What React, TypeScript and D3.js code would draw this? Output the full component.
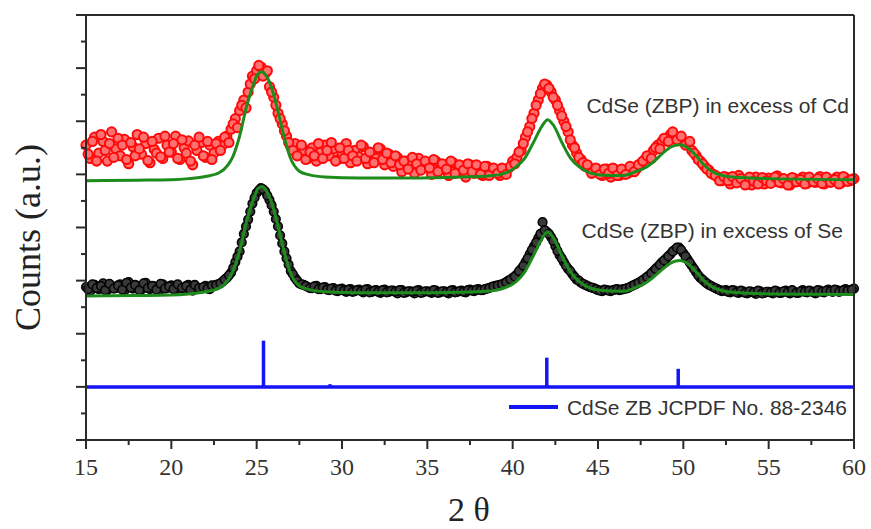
import React from "react";
import * as d3 from "d3";

// 2θ sampling positions of the measured patterns (two interleaved scans)
const twoTheta = d3.range(15, 60.001, 0.25);
const twoThetaMid = d3.range(15.125, 60, 0.25);

// CdSe (ZBP) in excess of Cd — measured counts (offset, a.u.)
const cdExcess = [
  5.55, 5.30, 5.70, 5.40, 5.62, 5.25, 5.80, 5.48, 5.35, 5.66,
  5.20, 5.52, 5.75, 5.38, 5.58, 5.22, 5.47, 5.68, 5.30, 5.55,
  5.42, 5.72, 5.28, 5.50, 5.63, 5.18, 5.45, 5.60, 5.32, 5.55,
  5.40, 5.62, 5.55, 5.72, 5.85, 6.05, 6.20, 6.40, 6.55, 6.85,
  6.95, 7.02, 6.90, 6.65, 6.45, 6.15, 5.95, 5.72, 5.52, 5.58,
  5.38, 5.45, 5.30, 5.50, 5.25, 5.42, 5.55, 5.35, 5.48, 5.28,
  5.40, 5.58, 5.22, 5.45, 5.33, 5.52, 5.20, 5.40, 5.30, 5.48,
  5.18, 5.38, 5.15, 5.32, 5.05, 5.25, 5.18, 5.02, 5.30, 5.12,
  5.20, 5.00, 5.25, 5.08, 5.18, 4.98, 5.22, 5.05, 5.15, 4.95,
  5.18, 5.02, 5.12, 4.98, 5.15, 5.02, 5.08, 4.98, 5.05, 5.12,
  5.25, 5.32, 5.45, 5.70, 5.90, 6.15, 6.40, 6.62, 6.68, 6.55,
  6.40, 6.20, 6.00, 5.80, 5.55, 5.40, 5.28, 5.15, 5.10, 5.05,
  5.05, 4.98, 5.10, 4.95, 5.05, 4.98, 5.08, 5.02, 5.12, 5.10,
  5.20, 5.28, 5.35, 5.45, 5.55, 5.62, 5.68, 5.75, 5.72, 5.68,
  5.62, 5.58, 5.45, 5.35, 5.25, 5.15, 5.08, 5.00, 4.95, 4.88,
  4.95, 4.82, 4.92, 4.98, 4.85, 4.90, 4.80, 4.95, 4.88, 4.82,
  4.93, 4.86, 4.97, 4.84, 4.90, 4.80, 4.92, 4.87, 4.95, 4.83,
  4.90, 4.85, 4.96, 4.82, 4.91, 4.87, 4.95, 4.84, 4.93, 4.88,
  4.92,
];
const cdExcessMid = [
  5.38, 5.62, 5.25, 5.75, 5.45, 5.58, 5.32, 5.68, 5.55, 5.28,
  5.60, 5.35, 5.48, 5.70, 5.26, 5.62, 5.40, 5.33, 5.72, 5.42,
  5.58, 5.30, 5.65, 5.40, 5.25, 5.55, 5.70, 5.35, 5.62, 5.28,
  5.58, 5.45, 5.70, 5.60, 5.95, 5.88, 6.30, 6.25, 6.70, 6.80,
  7.05, 6.85, 6.95, 6.55, 6.30, 6.05, 5.82, 5.60, 5.45, 5.35,
  5.55, 5.28, 5.42, 5.35, 5.58, 5.30, 5.45, 5.60, 5.25, 5.50,
  5.30, 5.45, 5.35, 5.25, 5.55, 5.30, 5.42, 5.22, 5.50, 5.28,
  5.40, 5.22, 5.35, 5.18, 5.25, 5.10, 5.32, 5.20, 5.08, 5.25,
  5.12, 5.28, 5.05, 5.20, 5.10, 5.25, 5.02, 5.18, 5.08, 5.20,
  5.05, 5.18, 5.00, 5.15, 4.98, 5.12, 5.02, 5.12, 5.00, 5.15,
  5.20, 5.42, 5.58, 5.80, 6.05, 6.30, 6.52, 6.70, 6.62, 6.45,
  6.30, 6.10, 5.90, 5.65, 5.50, 5.32, 5.22, 5.18, 5.02, 5.12,
  5.00, 5.10, 5.02, 5.12, 4.98, 5.10, 5.00, 5.15, 5.05, 5.18,
  5.25, 5.35, 5.30, 5.50, 5.48, 5.68, 5.62, 5.80, 5.65, 5.72,
  5.55, 5.62, 5.40, 5.28, 5.20, 5.10, 5.02, 4.98, 4.88, 4.96,
  4.88, 4.96, 4.84, 4.92, 4.80, 4.95, 4.87, 4.82, 4.94, 4.88,
  4.83, 4.95, 4.85, 4.92, 4.80, 4.94, 4.86, 4.90, 4.82, 4.95,
  4.86, 4.92, 4.83, 4.95, 4.85, 4.90, 4.82, 4.96, 4.87, 4.90,
];

// CdSe (ZBP) in excess of Se — measured counts (offset, a.u.)
const seExcess = [
  2.88, 2.80, 2.92, 2.84, 2.95, 2.82, 2.90, 2.86, 2.93, 2.81,
  2.97, 2.85, 2.90, 2.83, 2.96, 2.84, 2.89, 2.80, 2.93, 2.86,
  2.91, 2.82, 2.88, 2.84, 2.92, 2.81, 2.87, 2.85, 2.90, 2.84,
  2.90, 2.93, 2.98, 3.05, 3.15, 3.35, 3.55, 3.88, 4.15, 4.45,
  4.65, 4.74, 4.68, 4.52, 4.30, 4.02, 3.70, 3.42, 3.18, 3.05,
  2.95, 2.92, 2.88, 2.86, 2.90, 2.84, 2.88, 2.82, 2.86, 2.80,
  2.85, 2.79, 2.84, 2.80, 2.83, 2.78, 2.84, 2.79, 2.82, 2.77,
  2.83, 2.79, 2.81, 2.76, 2.82, 2.78, 2.80, 2.76, 2.82, 2.78,
  2.80, 2.77, 2.81, 2.78, 2.80, 2.76, 2.82, 2.79, 2.81, 2.78,
  2.83, 2.80, 2.84, 2.82, 2.85, 2.88, 2.90, 2.92, 2.95, 3.00,
  3.05, 3.12, 3.22, 3.35, 3.50, 3.65, 3.80, 4.10, 3.92, 3.82,
  3.65, 3.48, 3.35, 3.22, 3.12, 3.02, 2.96, 2.92, 2.88, 2.86,
  2.82, 2.80, 2.82, 2.80, 2.83, 2.82, 2.84, 2.86, 2.90, 2.94,
  2.98, 3.04, 3.10, 3.18, 3.26, 3.35, 3.42, 3.50, 3.58, 3.62,
  3.52, 3.40, 3.28, 3.16, 3.05, 2.98, 2.92, 2.88, 2.84, 2.80,
  2.82, 2.78, 2.81, 2.77, 2.80, 2.76, 2.79, 2.75, 2.80, 2.77,
  2.79, 2.76, 2.80, 2.77, 2.81, 2.76, 2.79, 2.77, 2.82, 2.78,
  2.80, 2.76, 2.81, 2.78, 2.83, 2.79, 2.82, 2.80, 2.84, 2.81,
  2.85,
];
const seExcessMid = [
  2.84, 2.93, 2.86, 2.90, 2.82, 2.94, 2.85, 2.91, 2.83, 2.96,
  2.87, 2.92, 2.82, 2.95, 2.86, 2.90, 2.83, 2.94, 2.85, 2.89,
  2.84, 2.93, 2.86, 2.90, 2.83, 2.92, 2.86, 2.88, 2.85, 2.91,
  2.92, 2.95, 3.02, 3.10, 3.24, 3.45, 3.72, 4.02, 4.30, 4.56,
  4.70, 4.72, 4.60, 4.42, 4.16, 3.85, 3.55, 3.30, 3.12, 3.00,
  2.93, 2.90, 2.86, 2.89, 2.84, 2.87, 2.83, 2.85, 2.81, 2.84,
  2.81, 2.83, 2.79, 2.82, 2.80, 2.83, 2.78, 2.81, 2.79, 2.82,
  2.78, 2.81, 2.79, 2.82, 2.77, 2.80, 2.79, 2.81, 2.77, 2.80,
  2.79, 2.82, 2.77, 2.80, 2.78, 2.81, 2.78, 2.80, 2.79, 2.82,
  2.81, 2.83, 2.82, 2.84, 2.86, 2.89, 2.91, 2.93, 2.97, 3.02,
  3.08, 3.18, 3.28, 3.42, 3.58, 3.72, 3.88, 3.95, 3.88, 3.75,
  3.56, 3.42, 3.28, 3.18, 3.07, 3.00, 2.94, 2.90, 2.87, 2.84,
  2.81, 2.83, 2.81, 2.82, 2.84, 2.83, 2.85, 2.88, 2.92, 2.96,
  3.01, 3.07, 3.14, 3.22, 3.30, 3.38, 3.46, 3.55, 3.62, 3.58,
  3.46, 3.34, 3.22, 3.10, 3.02, 2.95, 2.90, 2.86, 2.82, 2.81,
  2.79, 2.82, 2.78, 2.81, 2.77, 2.80, 2.78, 2.81, 2.76, 2.79,
  2.78, 2.81, 2.77, 2.80, 2.78, 2.82, 2.77, 2.80, 2.79, 2.81,
  2.78, 2.82, 2.79, 2.81, 2.80, 2.83, 2.79, 2.82, 2.81, 2.83,
];

// fitted profiles (green)
const cdFitX = [15, 18, 20, 21, 22, 22.8, 23.3, 23.6, 24.0, 24.4, 24.8, 25.05, 25.3, 25.55, 25.8, 26.2, 26.55, 26.95, 27.5, 28.1, 29, 31, 34, 37, 38.5, 39.3, 40.2, 40.7, 41.2, 41.7, 42.05, 42.4, 42.9, 43.4, 43.9, 45.1, 46.5, 47.2, 47.85, 48.3, 48.8, 49.3, 49.8, 50.3, 50.8, 51.2, 51.7, 52.3, 52.9, 55, 60];
const cdFitY = [4.88, 4.89, 4.9, 4.92, 4.96, 5.03, 5.17, 5.33, 5.72, 6.27, 6.68, 6.88, 6.93, 6.86, 6.7, 6.25, 5.78, 5.33, 5.06, 4.99, 4.95, 4.93, 4.93, 4.95, 4.97, 5.0, 5.14, 5.3, 5.59, 5.9, 6.03, 5.92, 5.59, 5.3, 5.14, 4.99, 4.98, 5.05, 5.14, 5.25, 5.4, 5.52, 5.56, 5.49, 5.33, 5.18, 5.05, 4.98, 4.95, 4.92, 4.9];
const seFitX = cdFitX;
const seFitY = [2.71, 2.72, 2.73, 2.75, 2.79, 2.86, 3.0, 3.17, 3.56, 4.1, 4.52, 4.72, 4.77, 4.7, 4.54, 4.09, 3.62, 3.17, 2.9, 2.83, 2.79, 2.77, 2.77, 2.78, 2.8, 2.84, 2.98, 3.16, 3.46, 3.78, 3.92, 3.8, 3.46, 3.16, 2.98, 2.82, 2.8, 2.87, 2.97, 3.08, 3.22, 3.34, 3.38, 3.31, 3.15, 3.0, 2.88, 2.81, 2.78, 2.75, 2.74];

// CdSe ZB reference (JCPDF 88-2346)
const refBase = 1;
const refPeakX = [25.4, 29.3, 42.0, 49.7];
const refPeakY = [1.87, 1.05, 1.55, 1.34];

const xTicks = [15, 20, 25, 30, 35, 40, 45, 50, 55, 60];
const xMinor = [17.5, 22.5, 27.5, 32.5, 37.5, 42.5, 47.5, 52.5, 57.5];
const yTicks = [0, 1, 2, 3, 4, 5, 6, 7, 8];
const yMinor = [0.5, 1.5, 2.5, 3.5, 4.5, 5.5, 6.5, 7.5];

const width = 871;
const height = 529;
const margin = { top: 15, right: 17, bottom: 89, left: 86 };

export default function App() {
  const x = d3.scaleLinear().domain([15, 60]).range([margin.left, width - margin.right]);
  const y = d3.scaleLinear().domain([0, 8]).range([height - margin.bottom, margin.top]);
  const x0 = margin.left;
  const x1 = width - margin.right;
  const y0 = height - margin.bottom;
  const y1 = margin.top;

  const cdFit = d3
    .line<number>()
    .x((d, i) => x(cdFitX[i]))
    .y((d) => y(d))
    .curve(d3.curveMonotoneX)(cdFitY);
  const seFit = d3
    .line<number>()
    .x((d, i) => x(seFitX[i]))
    .y((d) => y(d))
    .curve(d3.curveMonotoneX)(seFitY);

  const seDots = [
    ...seExcess.map((v, i) => [twoTheta[i], v]),
    ...seExcessMid.map((v, i) => [twoThetaMid[i], v]),
  ];
  const cdDots = [
    ...cdExcess.map((v, i) => [twoTheta[i], v]),
    ...cdExcessMid.map((v, i) => [twoThetaMid[i], v]),
  ];

  const axisColor = "#2b2b2b";
  const blue = "#1414f5";
  const serif = "'Liberation Serif', 'Times New Roman', serif";
  const sans = "'Liberation Sans', Arial, sans-serif";

  return (
    <svg
      width={width}
      height={height}
      style={{ position: "absolute", left: 0, top: 0, background: "#fff" }}
    >
      {/* reference pattern */}
      <line x1={x(15)} x2={x(60)} y1={y(refBase)} y2={y(refBase)} stroke={blue} strokeWidth={3.5} />
      {refPeakX.map((p, i) => (
        <line key={p} x1={x(p)} x2={x(p)} y1={y(refBase)} y2={y(refPeakY[i])} stroke={blue} strokeWidth={3.5} />
      ))}

      {/* Se-rich pattern */}
      {seDots.map((d, i) => (
        <circle key={"se" + i} cx={x(d[0])} cy={y(d[1])} r={4.3} fill="#3a3a3a" stroke="#050505" strokeWidth={1.6} />
      ))}
      <path d={seFit ?? ""} fill="none" stroke="#1d8c1d" strokeWidth={3} />

      {/* Cd-rich pattern */}
      {cdDots.map((d, i) => (
        <circle key={"cd" + i} cx={x(d[0])} cy={y(d[1])} r={4.6} fill="#ff7070" stroke="#ff0a0a" strokeWidth={2} />
      ))}
      <path d={cdFit ?? ""} fill="none" stroke="#1d8c1d" strokeWidth={3} />

      {/* frame */}
      <line x1={x0} x2={x1} y1={y1} y2={y1} stroke={axisColor} strokeWidth={2} />
      <line x1={x1} x2={x1} y1={y1} y2={y0} stroke={axisColor} strokeWidth={2} />

      {/* x axis */}
      <line x1={x0} x2={x1} y1={y0} y2={y0} stroke={axisColor} strokeWidth={2} />
      {xTicks.map((t) => (
        <g key={t} transform={`translate(${x(t)},${y0})`}>
          <line y2={9} stroke={axisColor} strokeWidth={2} />
          <text y={35} textAnchor="middle" fontFamily={serif} fontSize={24} fill="#333">
            {t}
          </text>
        </g>
      ))}
      {xMinor.map((t) => (
        <line key={t} x1={x(t)} x2={x(t)} y1={y0} y2={y0 + 5} stroke={axisColor} strokeWidth={2} />
      ))}

      {/* y axis */}
      <line x1={x0} x2={x0} y1={y1} y2={y0} stroke={axisColor} strokeWidth={2} />
      {yTicks.map((t) => (
        <line key={t} x1={x0 - 10} x2={x0} y1={y(t)} y2={y(t)} stroke={axisColor} strokeWidth={2} />
      ))}
      {yMinor.map((t) => (
        <line key={t} x1={x0 - 5} x2={x0} y1={y(t)} y2={y(t)} stroke={axisColor} strokeWidth={2} />
      ))}

      {/* labels */}
      <text
        transform={`translate(40,${(y0 + y1) / 2 + 10}) rotate(-90)`}
        textAnchor="middle"
        fontFamily={serif}
        fontSize={36}
        fill="#222"
      >
        Counts (a.u.)
      </text>
      <text x={469} y={521} textAnchor="middle" fontFamily={serif} fontSize={34} fill="#222">
        2 θ
      </text>

      <text x={849} y={113} textAnchor="end" fontFamily={sans} fontSize={21} fill="#333">
        CdSe (ZBP) in excess of Cd
      </text>
      <text x={843} y={238} textAnchor="end" fontFamily={sans} fontSize={21} fill="#333">
        CdSe (ZBP) in excess of Se
      </text>

      {/* legend */}
      <line x1={509} x2={558} y1={407} y2={407} stroke={blue} strokeWidth={4} />
      <text x={847} y={415} textAnchor="end" fontFamily={sans} fontSize={21} fill="#333">
        CdSe ZB JCPDF No. 88-2346
      </text>
    </svg>
  );
}
